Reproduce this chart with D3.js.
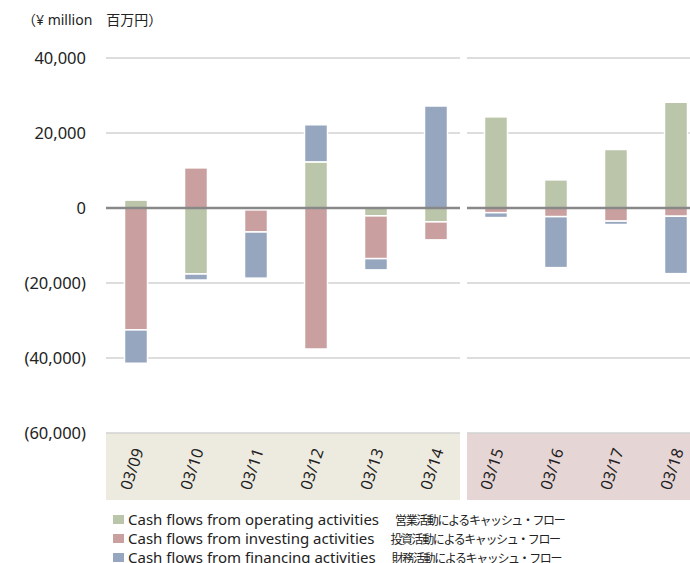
<!DOCTYPE html>
<html>
<head>
<meta charset="utf-8">
<script src="https://cdn.jsdelivr.net/npm/d3@7"></script>
<style>
  body { margin: 0; background: #fff; }
  svg { display: block; font-family: "Noto Sans", "Noto Sans CJK JP", sans-serif; }
</style>
</head>
<body>
<svg id="chart" width="690" height="563"></svg>
<script>
const periods = ['03/09', '03/10', '03/11', '03/12', '03/13', '03/14', '03/15', '03/16', '03/17', '03/18'];
const operating = [2100, -17600, -500, 12300, -2100, -3700, 24300, 7500, 15600, 28200];
const investing = [-32500, 10700, -5900, -37600, -11400, -4800, -1250, -2300, -3500, -2200];
const financing = [-8900, -1600, -12300, 9900, -3000, 27200, -1300, -13600, -900, -15300];
const yTicks = [40000, 20000, 0, -20000, -40000, -60000];
const seriesNames = [
  { key: 'operating', en: 'Cash flows from operating activities', ja: '営業活動によるキャッシュ・フロー' },
  { key: 'investing', en: 'Cash flows from investing activities', ja: '投資活動によるキャッシュ・フロー' },
  { key: 'financing', en: 'Cash flows from financing activities', ja: '財務活動によるキャッシュ・フロー' }
];

function drawChart() {
  const svg = d3.select("#chart"),
        width = +svg.attr("width");

  const colors = { operating: '#bac5aa', investing: '#c9a09f', financing: '#96a6bf' };

  const rows = periods.map((p, i) => ({
    period: p, operating: operating[i], investing: investing[i], financing: financing[i]
  }));

  const stack = d3.stack()
      .keys(['operating', 'investing', 'financing'])
      .offset(d3.stackOffsetDiverging);
  const series = stack(rows);

  const x = d3.scaleBand()
      .domain(periods)
      .range([106, 706])
      .paddingInner(0.617)
      .paddingOuter(0.3085);

  const y = d3.scaleLinear()
      .domain([-60000, 40000])
      .range([433, 58]);

  // split between the two periods (03/14 | 03/15)
  const splitX = (x('03/14') + x('03/15') + x.bandwidth()) / 2;
  const panels = [[106, splitX - 6], [splitX + 1, width]];

  // category band backgrounds
  const bgColors = ['#edebe0', '#e6d5d5'];
  panels.forEach((p, i) => {
    svg.append("rect")
      .attr("x", p[0]).attr("y", y(-60000))
      .attr("width", p[1] - p[0]).attr("height", 67)
      .attr("fill", bgColors[i]);
  });

  // gridlines
  yTicks.filter(t => t !== 0).forEach(t => {
    panels.forEach(p => {
      svg.append("line")
        .attr("x1", p[0]).attr("x2", p[1])
        .attr("y1", y(t)).attr("y2", y(t))
        .attr("stroke", "#d2d2d2")
        .attr("stroke-width", 1.5);
    });
  });

  // y tick labels
  const fmt = d3.format(",");
  svg.append("g").selectAll("text")
    .data(yTicks)
    .enter()
    .append("text")
    .attr("x", 86)
    .attr("y", d => y(d))
    .attr("dy", "0.35em")
    .attr("text-anchor", "end")
    .attr("fill", "#222")
    .style("font-size", "16.5px")
    .text(d => d < 0 ? `(${fmt(-d)})` : fmt(d));

  // unit label
  svg.append("text")
    .attr("x", 22).attr("y", 25)
    .attr("fill", "#222")
    .style("font-size", "14px")
    .text("（¥ million　百万円）");

  // bars
  svg.append("g").selectAll("g")
    .data(series)
    .enter()
    .append("g")
    .attr("fill", d => colors[d.key])
    .selectAll("rect")
    .data(d => d)
    .enter()
    .append("rect")
    .attr("x", d => x(d.data.period))
    .attr("y", d => y(Math.max(d[0], d[1])))
    .attr("width", x.bandwidth())
    .attr("height", d => Math.abs(y(d[0]) - y(d[1])))
    .attr("stroke", "#fff")
    .attr("stroke-width", 1.5);

  // zero line
  panels.forEach(p => {
    svg.append("line")
      .attr("x1", p[0]).attr("x2", p[1])
      .attr("y1", y(0)).attr("y2", y(0))
      .attr("stroke", "#888")
      .attr("stroke-width", 2.5);
  });

  // x labels, rotated
  svg.append("g").selectAll("text")
    .data(periods)
    .enter()
    .append("text")
    .attr("transform", d => `translate(${x(d) + x.bandwidth() / 2 - 4},469) rotate(-72)`)
    .attr("text-anchor", "middle")
    .attr("dy", "0.35em")
    .attr("fill", "#222")
    .style("font-size", "16px")
    .text(d => d);

  // legend
  const legend = svg.append("g").selectAll("g")
    .data(seriesNames)
    .enter()
    .append("g")
    .attr("transform", (d, i) => `translate(113,${515 + i * 19})`);

  legend.append("rect")
    .attr("width", 11).attr("height", 9)
    .attr("fill", d => colors[d.key]);

  const lt = legend.append("text")
    .attr("x", 15).attr("y", 4.5)
    .attr("dy", "0.36em")
    .attr("fill", "#222");
  lt.append("tspan")
    .style("font-size", "15px")
    .text(d => d.en);
  lt.append("tspan")
    .attr("dx", 16)
    .style("font-size", "12px")
    .style("letter-spacing", "-1.4px")
    .text(d => d.ja);
}

drawChart();
</script>
</body>
</html>
